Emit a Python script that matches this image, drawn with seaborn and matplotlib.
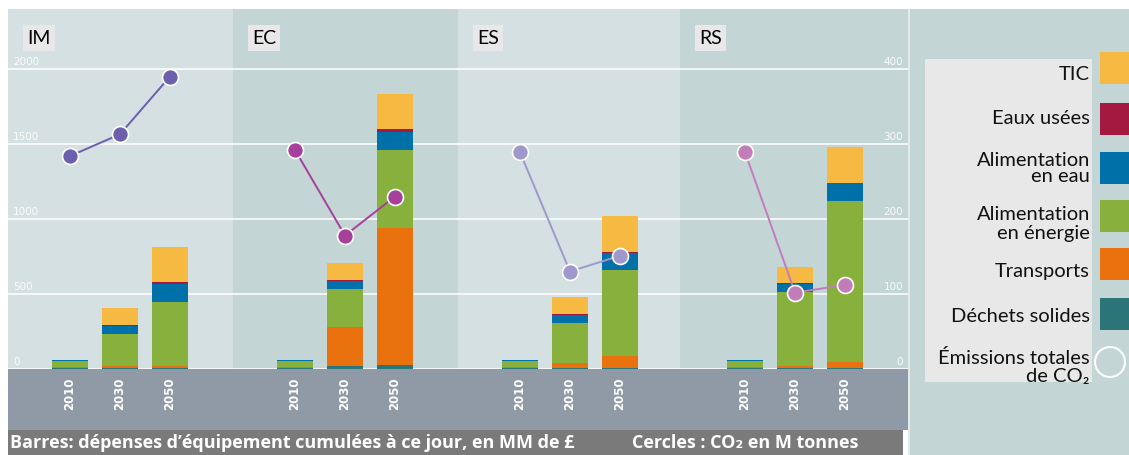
"""
Dépenses d'équipement cumulées (barres empilées) et émissions de CO2 (cercles)
pour quatre scénarios IM / EC / ES / RS, 2010-2030-2050.
Sortie : out.png
"""
import pandas as pd
import matplotlib.pyplot as plt
import matplotlib.transforms as mtransforms
from matplotlib.patches import Rectangle, Circle
import seaborn as sns

# =============================================
# Données
# =============================================
regions = ["IM", "EC", "ES", "RS"]
years = ["2010", "2030", "2050"]

# ordre d'empilement : du bas vers le haut
categories = ["Déchets solides", "Transports", "Alimentation en énergie",
              "Alimentation en eau", "Eaux usées", "TIC"]
legend_labels = ["Déchets solides", "Transports", "Alimentation\nen énergie",
                 "Alimentation\nen eau", "Eaux usées", "TIC"]
cat_colors = ["#2b7579", "#e9710e", "#88b03d", "#0071a8", "#a3193f", "#f6b942"]

# MM de £, ordre : IM(2010,2030,2050), EC(...), ES(...), RS(...)
dechets = [4, 4, 5, 4, 18, 29, 4, 4, 5, 4, 4, 5]
transports = [12, 13, 13, 12, 261, 910, 12, 38, 85, 12, 16, 40]
energie = [38, 216, 432, 38, 252, 524, 38, 263, 571, 38, 495, 1077]
eau = [3, 56, 116, 3, 54, 114, 3, 58, 114, 3, 54, 118]
eaux_usees = [2, 7, 11, 2, 11, 20, 2, 2, 2, 2, 2, 2]
tic = [4, 114, 234, 4, 109, 234, 4, 118, 243, 4, 109, 236]

# M tonnes de CO2
co2 = [284, 313, 390, 292, 178, 230, 289, 130, 151, 289, 102, 112]
co2_colors = ["#6b5fae", "#a6409a", "#9f98cd", "#c27db9"]

left_ticks = [0, 500, 1000, 1500, 2000]
right_ticks = [0, 100, 200, 300, 400]

panel_bg = ["#d4e0e1", "#c4d5d5", "#d4e0e1", "#c4d5d5"]

df = pd.DataFrame({
    "region": [r for r in regions for _ in years],
    "year": years * len(regions),
    "Déchets solides": dechets,
    "Transports": transports,
    "Alimentation en énergie": energie,
    "Alimentation en eau": eau,
    "Eaux usées": eaux_usees,
    "TIC": tic,
    "co2": co2,
})
# cumul pour empiler
cum = df[categories].cumsum(axis=1)

# =============================================
# Figure
# =============================================
sns.set_theme(style="white")
plt.rcParams['font.family'] = ['Lato', 'DejaVu Sans']

W, H = 1129, 455
fig = plt.figure(figsize=(W / 100, H / 100), dpi=100)
fig.patch.set_facecolor("white")

def px_axes(x0, y0, x1, y1):
    """axes placé en pixels (origine en haut à gauche)"""
    return fig.add_axes([x0 / W, 1 - y1 / H, (x1 - x0) / W, (y1 - y0) / H])

# fond : bandeau gris + bandeau du titre
bg = px_axes(0, 0, W, H)
bg.set_xlim(0, W)
bg.set_ylim(H, 0)
bg.axis("off")
bg.add_patch(Rectangle((8, 369), 900, 61, color="#9099a6", lw=0))
bg.add_patch(Rectangle((8, 430), 895, 25, color="#7a7a7a", lw=0))
caption_font = ["Open Sans", "DejaVu Sans"]
bg.text(10, 443, "Barres: dépenses d’équipement cumulées à ce jour, en MM de £",
        color="white", fontsize=13, fontweight="bold", va="center", ha="left",
        family=caption_font)
bg.text(632, 443, "Cercles : CO₂ en M tonnes",
        color="white", fontsize=13, fontweight="bold", va="center", ha="left",
        family=caption_font)

# =============================================
# Les quatre panneaux
# =============================================
panel_x = [8, 233, 458, 680, 908]
first_bar = [62, 62, 62, 65]   # px entre le bord du panneau et la 1re barre
for i, reg in enumerate(regions):
    x0, x1 = panel_x[i], panel_x[i + 1]
    ax = px_axes(x0, 9, x1, 369)
    ax.set_facecolor(panel_bg[i])
    sub = df[df["region"] == reg]
    sub_cum = cum[df["region"] == reg]

    # barres empilées : on dessine du cumul le plus haut au plus bas
    for k in reversed(range(len(categories))):
        sns.barplot(x=sub["year"].values, y=sub_cum[categories[k]].values,
                    order=years, color=cat_colors[k], width=0.72,
                    saturation=1, linewidth=0, errorbar=None, ax=ax)

    # largeur du panneau en "unités de barre" (50 px = 1)
    left = first_bar[i] / 50
    xlim = (-left, (x1 - x0) / 50 - left)

    # cercles CO2 sur un axe secondaire (0-480)
    ax2 = ax.twinx()
    sns.pointplot(x=sub["year"].values, y=sub["co2"].values, order=years,
                  color=co2_colors[i], errorbar=None, markers="o",
                  linewidth=1.4, markersize=11.5, markeredgecolor="white",
                  markeredgewidth=1.2, ax=ax2)
    ax2.set_xlim(*xlim)
    ax2.set_ylim(0, 480)
    ax2.set_yticks([])
    ax2.set_ylabel("")
    ax2.tick_params(length=0)
    for s in ax2.spines.values():
        s.set_visible(False)

    ax.set_xlim(*xlim)
    ax.set_ylim(0, 2400)
    ax.set_yticks(left_ticks)
    ax.yaxis.grid(True, color="white", linewidth=1.3, alpha=0.85)
    ax.set_axisbelow(True)
    ax.tick_params(axis="y", which="both", left=False, right=False,
                   labelleft=False, length=0)
    ax.set_xticks(range(len(years)))
    ax.set_xticklabels(years, rotation=90, color="white", fontsize=8.5,
                       fontweight="bold", family=["DejaVu Sans"])
    ax.tick_params(axis="x", length=0, pad=6)
    ax.set_xlabel("")
    ax.set_ylabel("")
    for s in ax.spines.values():
        s.set_visible(False)

    # étiquette du panneau
    ax.text(19 / (x1 - x0), 1 - 29 / 360, reg, transform=ax.transAxes,
            fontsize=14, color="black", ha="left", va="center",
            bbox=dict(boxstyle="square,pad=0.22", facecolor="#e8e8e8",
                      edgecolor="none"))

    # graduations à l'intérieur
    if i == 0:
        trans = mtransforms.blended_transform_factory(ax.transAxes, ax.transData)
        for v in left_ticks:
            ax.annotate(str(v), xy=(5 / (x1 - x0), v), xycoords=trans,
                        xytext=(0, 4), textcoords="offset pixels",
                        fontsize=7.5, color="white", alpha=0.9,
                        ha="left", va="baseline", family=["DejaVu Sans"])
    if i == len(regions) - 1:
        trans2 = mtransforms.blended_transform_factory(ax2.transAxes, ax2.transData)
        for v in right_ticks:
            ax2.annotate(str(v), xy=(1 - 5 / (x1 - x0), v), xycoords=trans2,
                         xytext=(0, 4), textcoords="offset pixels",
                         fontsize=7.5, color="white", alpha=0.9,
                         ha="right", va="baseline", family=["DejaVu Sans"])

# =============================================
# Légende (à droite)
# =============================================
lg = px_axes(908, 9, W, H)
lg.set_xlim(908, W)
lg.set_ylim(H, 9)
lg.set_facecolor("#c4d5d5")
for s in lg.spines.values():
    s.set_visible(False)
lg.set_xticks([])
lg.set_yticks([])
lg.axvline(908.8, color="#e2eaea", linewidth=1.5)
lg.add_patch(Rectangle((925, 59), 167, 323, color="#e8e8e8", lw=0))

# du haut vers le bas : TIC ... Déchets solides
rows_top = [52, 103, 152, 200, 248, 298]
text_y = [[74], [119], [160, 177], [214, 234], [272], [317]]
for row, k in enumerate(reversed(range(len(categories)))):
    lg.add_patch(Rectangle((1100, rows_top[row]), 32, 32, color=cat_colors[k], lw=0))
    lines = legend_labels[k].split("\n")
    for ln, yy in zip(lines, text_y[row]):
        lg.text(1090, yy, ln, ha="right", va="center", fontsize=14.5, color="#111111")

lg.add_patch(Circle((1110, 362), 15, fill=False, edgecolor="white", linewidth=1.5))
lg.text(1090, 358, "Émissions totales", ha="right", va="center", fontsize=14.5, color="#111111")
lg.text(1090, 377, "de CO₂", ha="right", va="center", fontsize=14.5, color="#111111")

fig.savefig("out.png", dpi=100)
plt.close()
